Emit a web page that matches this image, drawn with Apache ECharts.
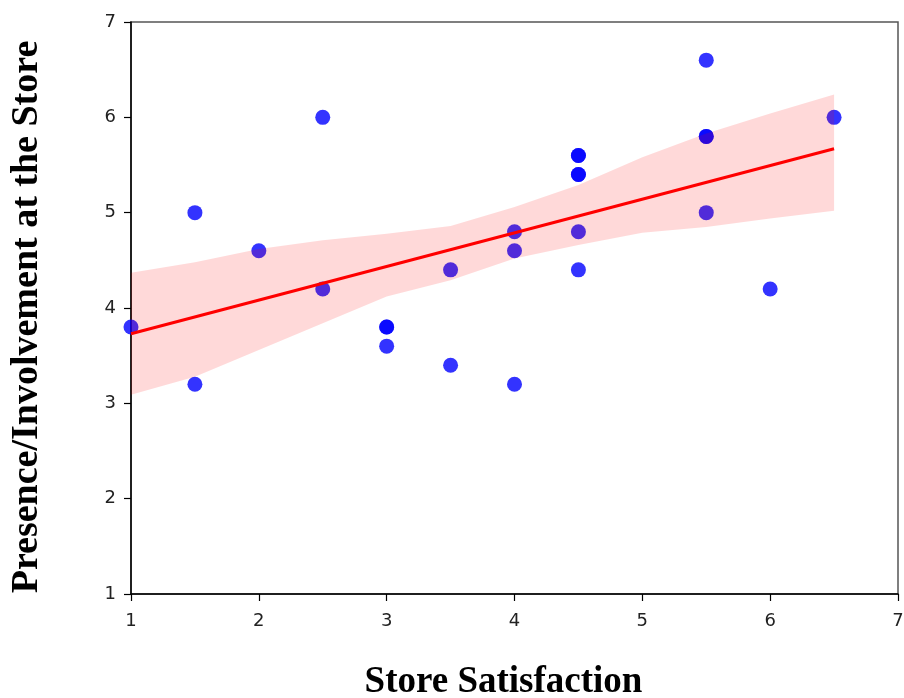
<!DOCTYPE html>
<html>
<head>
<meta charset="utf-8">
<script src="https://cdn.jsdelivr.net/npm/echarts@6/dist/echarts.min.js"></script>
<style>
  html, body { margin: 0; padding: 0; background: #fff; }
  #main { width: 904px; height: 698px; }
</style>
</head>
<body>
<div id="main"></div>
<script>
// scatter points (store satisfaction, presence/involvement)
var satisfaction = [1, 1.5, 1.5, 2, 2.5, 2.5, 3, 3, 3, 3.5, 3.5, 4, 4, 4, 4.5, 4.5, 4.5, 4.5, 4.5, 4.5, 5.5, 5.5, 5.5, 5.5, 6, 6.5];
var presence = [3.8, 5.0, 3.2, 4.6, 6.0, 4.2, 3.8, 3.8, 3.6, 4.4, 3.4, 4.8, 4.6, 3.2, 5.6, 5.6, 5.4, 5.4, 4.8, 4.4, 6.6, 5.8, 5.8, 5.0, 4.2, 6.0];

// fitted line ends
var fitX = [1, 6.5];
var fitY = [3.73, 5.67];

// confidence band edges
var bandX = [1, 1.5, 2, 2.5, 3, 3.5, 4, 4.5, 5, 5.5, 6, 6.5];
var bandUpper = [4.37, 4.48, 4.62, 4.71, 4.78, 4.86, 5.06, 5.29, 5.58, 5.83, 6.04, 6.24];
var bandLower = [3.09, 3.28, 3.56, 3.84, 4.12, 4.29, 4.52, 4.66, 4.79, 4.85, 4.94, 5.02];

var ticks = [1, 2, 3, 4, 5, 6, 7];

var myChart = echarts.init(document.getElementById("main"));

var scatterData = satisfaction.map(function (x, i) {
  return [x, presence[i]];
});
var fitData = fitX.map(function (x, i) {
  return [x, fitY[i]];
});

var tickLabel = {
  color: "#222",
  fontSize: 18,
  fontFamily: "DejaVu Sans",
};

var option = {
  animation: false,
  backgroundColor: "#fff",
  grid: {
    left: 131,
    right: 6,
    top: 22,
    bottom: 104,
    outerBoundsMode: "none",
    show: true,
    borderColor: "#555",
    borderWidth: 1.5,
    backgroundColor: "transparent",
  },
  xAxis: {
    type: "value",
    min: ticks[0],
    max: ticks[ticks.length - 1],
    interval: 1,
    name: "Store Satisfaction",
    nameLocation: "middle",
    nameGap: 70,
    nameTextStyle: {
      fontFamily: "Liberation Serif",
      fontWeight: "bold",
      fontSize: 37,
      color: "#000",
      padding: [0, 22, 0, 0],
    },
    axisLine: { show: true, lineStyle: { color: "#000", width: 1.5 } },
    axisTick: { show: true, length: 7, lineStyle: { color: "#000", width: 1.2 } },
    axisLabel: Object.assign({ margin: 18 }, tickLabel),
    splitLine: { show: false },
  },
  yAxis: {
    type: "value",
    min: ticks[0],
    max: ticks[ticks.length - 1],
    interval: 1,
    name: "Presence/Involvement at the Store",
    nameLocation: "middle",
    nameGap: 85,
    nameTextStyle: {
      fontFamily: "Liberation Serif",
      fontWeight: "bold",
      fontSize: 38,
      color: "#000",
      padding: [0, 18, 0, 0],
    },
    axisLine: { show: true, lineStyle: { color: "#000", width: 1.5 } },
    axisTick: { show: true, length: 7, lineStyle: { color: "#000", width: 1.2 } },
    axisLabel: Object.assign({ margin: 15 }, tickLabel),
    splitLine: { show: false },
  },
  series: [
    {
      type: "scatter",
      data: scatterData,
      symbolSize: 15,
      itemStyle: { color: "#0000ff", opacity: 0.8 },
      z: 2,
    },
    {
      // CI band drawn over the points like seaborn does
      type: "custom",
      data: [[bandX[0], bandUpper[0]]],
      renderItem: function (params, api) {
        var pts = [];
        for (var i = 0; i < bandX.length; i++) {
          pts.push(api.coord([bandX[i], bandUpper[i]]));
        }
        for (var j = bandX.length - 1; j >= 0; j--) {
          pts.push(api.coord([bandX[j], bandLower[j]]));
        }
        return {
          type: "polygon",
          shape: { points: pts },
          style: { fill: "rgba(255,0,0,0.15)", stroke: null },
        };
      },
      z: 3,
      silent: true,
    },
    {
      type: "line",
      data: fitData,
      showSymbol: false,
      lineStyle: { color: "#ff0000", width: 3 },
      z: 4,
    },
  ],
};

myChart.setOption(option);
</script>
</body>
</html>
